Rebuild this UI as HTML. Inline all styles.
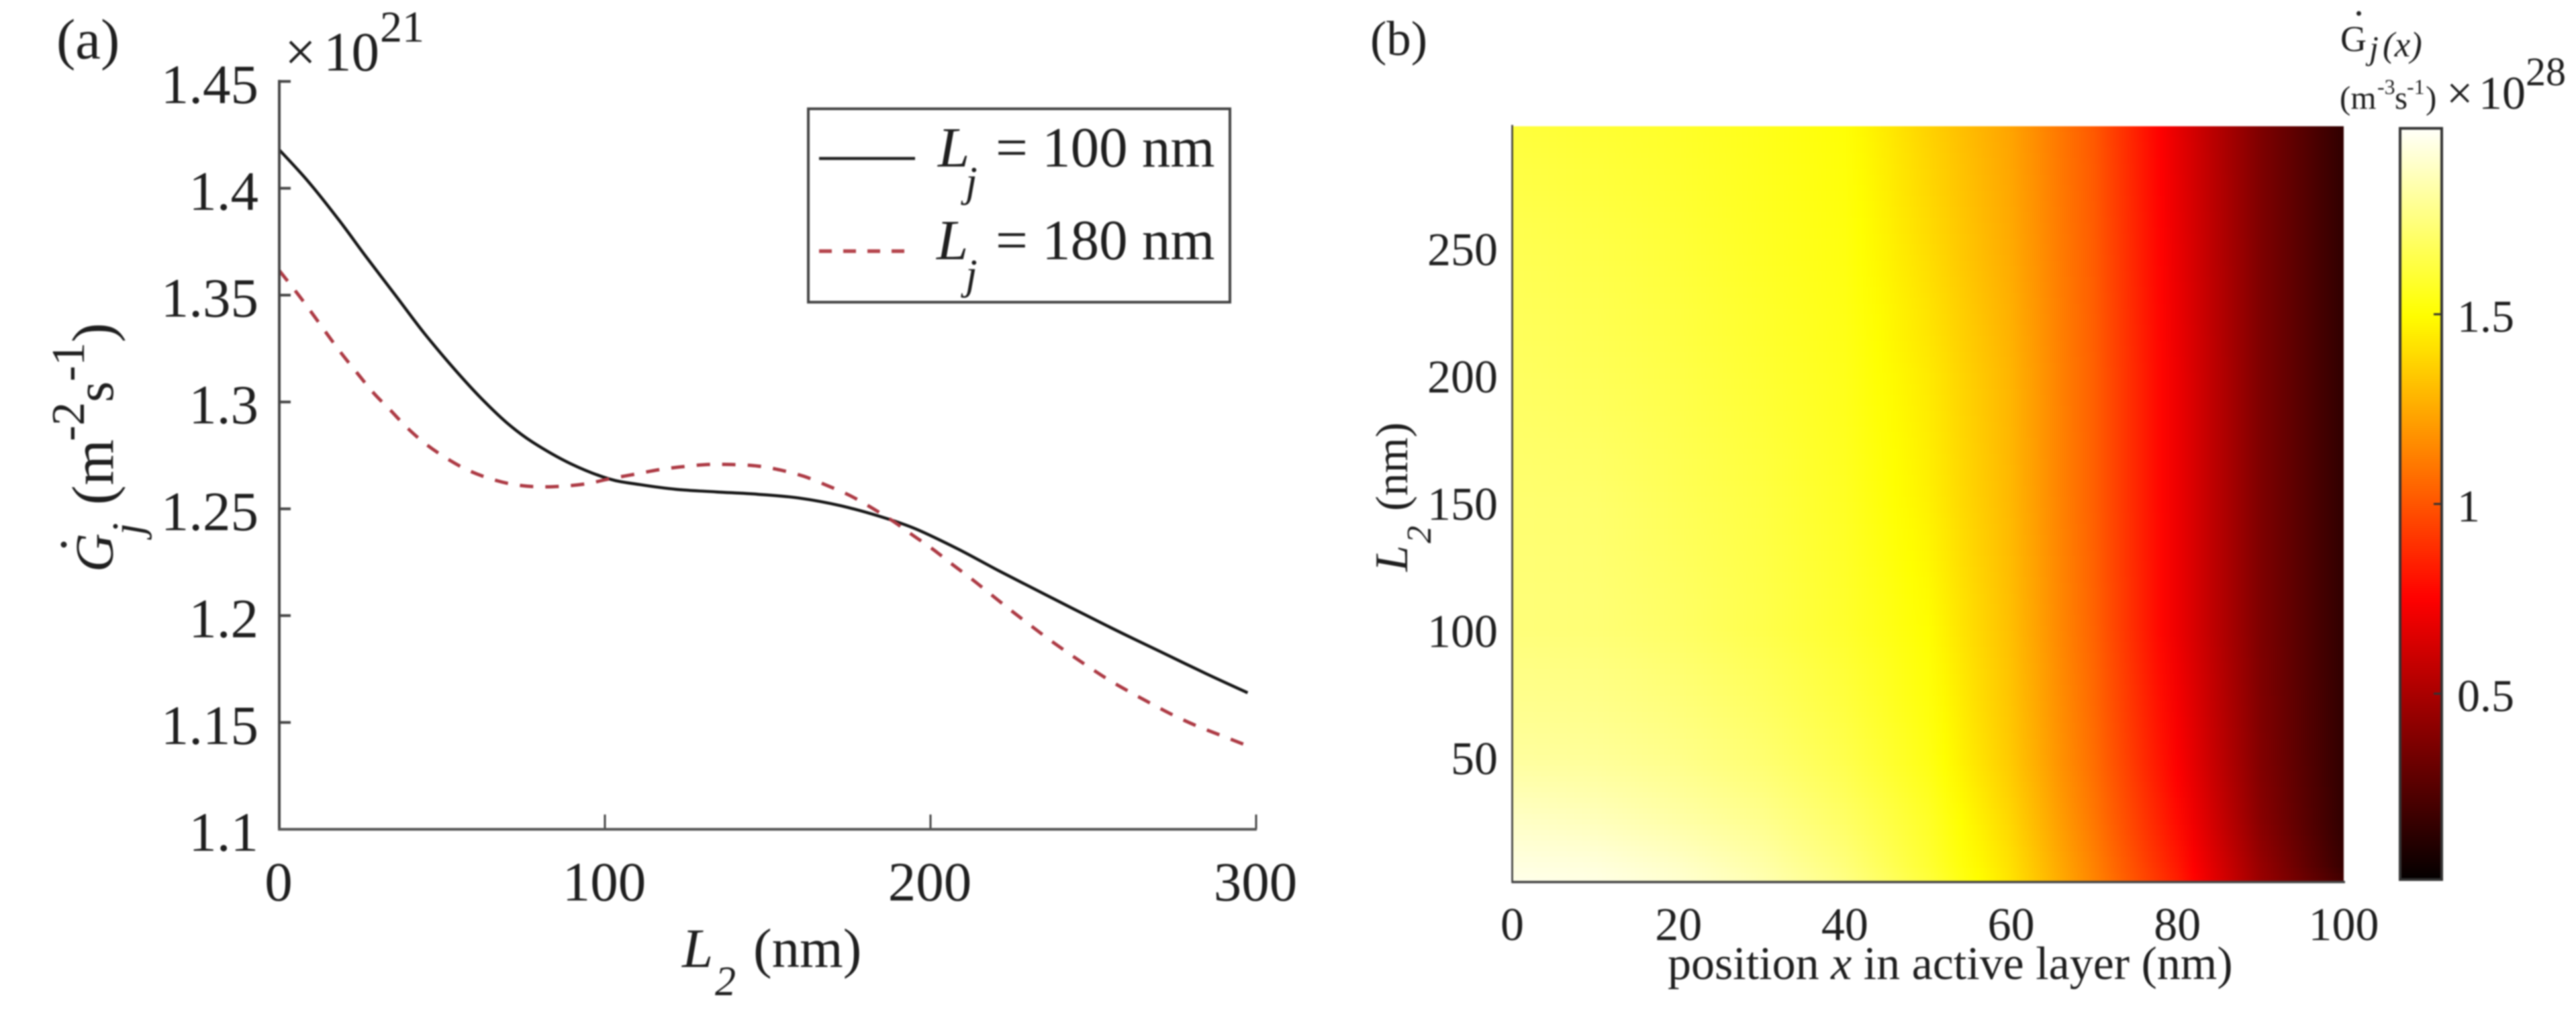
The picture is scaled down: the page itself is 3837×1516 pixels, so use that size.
<!DOCTYPE html>
<html lang="en">
<head>
<meta charset="utf-8">
<title>Generation rate vs spacer thickness and position</title>
<style>
  html, body { margin: 0; padding: 0; background: #fff; }
  body { width: 3837px; height: 1516px; overflow: hidden; }
  svg { display: block; filter: blur(1px); }
  text { font-family: "Liberation Serif", "Times New Roman", serif; fill: #1f1f1f; }
  .i { font-style: italic; }
</style>
</head>
<body>
<svg id="figure" xmlns="http://www.w3.org/2000/svg" width="3837" height="1516" viewBox="0 0 3837 1516">
  <rect x="0" y="0" width="3837" height="1516" fill="#ffffff"/>
  <defs id="defs"></defs>

  <!-- Panel (a) -->
  <g id="panel-a">
    <text x="84" y="87" font-size="85">(a)</text>
    <text x="424" y="105" font-size="83">×</text>
    <text x="482" y="105" font-size="83">10</text>
    <text x="566" y="62" font-size="66">21</text>

    <g id="a-grid-ticks"></g>
    <g id="a-series"></g>
    <line x1="416" y1="119" x2="416" y2="1237" stroke="#444" stroke-width="4"/>
    <line x1="414" y1="1235" x2="1872" y2="1235" stroke="#555" stroke-width="4"/>

    <g>
      <text class="i" font-size="80" transform="translate(168 852) rotate(-90)">G</text>
      <circle cx="95" cy="811" r="4.5" fill="#262626"/>
      <text class="i" font-size="66" transform="translate(212 797) rotate(-90)">j</text>
      <text font-size="88" transform="translate(168 752) rotate(-90)">(m</text>
      <text font-size="70" transform="translate(125 657) rotate(-90)">-2</text>
      <text font-size="80" transform="translate(168 599) rotate(-90)">s</text>
      <text font-size="70" transform="translate(125 568) rotate(-90)">-1</text>
      <text font-size="88" transform="translate(168 510) rotate(-90)">)</text>
    </g>

    <g>
      <text class="i" x="1016" y="1440" font-size="83">L</text>
      <text class="i" x="1065" y="1482" font-size="62">2</text>
      <text x="1122" y="1440" font-size="83">(nm)</text>
    </g>

    <g>
      <rect x="1204" y="162" width="628" height="288" fill="#fff" stroke="#444" stroke-width="4"/>
      <line x1="1220" y1="236" x2="1363" y2="236" stroke="#222" stroke-width="4.5"/>
      <text class="i" x="1397" y="248" font-size="85">L</text>
      <text class="i" x="1438" y="292" font-size="64">j</text>
      <text x="1483" y="248" font-size="85">= 100 nm</text>
      <line x1="1220" y1="374" x2="1354" y2="374" stroke="#b5444c" stroke-width="5.5" stroke-dasharray="19 17"/>
      <text class="i" x="1395" y="386" font-size="85">L</text>
      <text class="i" x="1438" y="430" font-size="64">j</text>
      <text x="1483" y="386" font-size="85">= 180 nm</text>
    </g>
  </g>

  <!-- Panel (b) -->
  <g id="panel-b">
    <text x="2041" y="82" font-size="73">(b)</text>
    <g id="heatmap"></g>
    <line x1="2252.5" y1="186" x2="2252.5" y2="1315" stroke="#333" stroke-width="2.5"/>
    <line x1="2252" y1="1313.5" x2="3493" y2="1313.5" stroke="#444" stroke-width="3.5"/>
    <g id="b-ticks"></g>
    <text x="2484" y="1458" font-size="70">position <tspan class="i">x</tspan> in active layer (nm)</text>
    <g>
      <text class="i" font-size="70" transform="translate(2096 851) rotate(-90)">L</text>
      <text class="i" font-size="52" transform="translate(2131 809) rotate(-90)">2</text>
      <text font-size="68" transform="translate(2096 761) rotate(-90)">(nm)</text>
    </g>

    <g id="colorbar"></g>

    <g>
      <text font-size="54" x="3486" y="76">G</text>
      <circle cx="3513.5" cy="20" r="3.5" fill="#262626"/>
      <text class="i" font-size="50" x="3529" y="88">j</text>
      <text class="i" font-size="53" x="3549" y="84">(x)</text>
      <text font-size="49" x="3485" y="162">(m</text>
      <text font-size="32" x="3541" y="140">-3</text>
      <text font-size="49" x="3567" y="162">s</text>
      <text font-size="32" x="3585" y="140">-1</text>
      <text font-size="49" x="3613" y="162">)</text>
      <text font-size="70" x="3644" y="162">×</text>
      <text font-size="70" x="3692" y="162">10</text>
      <text font-size="60" x="3762" y="127">28</text>
    </g>
  </g>
</svg>

<script>
// ---- Panel (a) data ----
const l2Samples = [0, 9, 18.5, 26.4, 35.9, 44.5, 54, 61.9, 69.7, 77.7, 89.5, 101.3, 110.8, 121.9, 134.3, 147, 159.8, 172.5, 185.2, 195.6, 208.3, 221, 236, 247.6, 259.2, 270.8, 284.7, 297.4];
const seriesL100 = [1.418, 1.403, 1.3848, 1.3685, 1.3495, 1.3322, 1.315, 1.3019, 1.2905, 1.2813, 1.2711, 1.264, 1.2613, 1.2591, 1.2579, 1.2568, 1.255, 1.2514, 1.2461, 1.2405, 1.2313, 1.221, 1.2093, 1.2003, 1.1915, 1.183, 1.1728, 1.1639];
const l2SamplesRed = [0, 5.9, 10.6, 15, 19.5, 24, 28.9, 34.2, 39.5, 45, 51.2, 57.9, 65, 72.2, 79.6, 87.1, 94.6, 101.3, 109.2, 117, 123.9, 131.4, 139, 147, 154, 161.1, 168.4, 175.4, 182.1, 188.7, 194.4, 200.8, 206.6, 212.6, 218.5, 224.5, 230.3, 236.3, 242.5, 248.6, 254.8, 261.3, 267.9, 274.6, 281.6, 288.8, 295.7, 297.4];
const seriesL180 = [1.3615, 1.3501, 1.3404, 1.3311, 1.3219, 1.3134, 1.3043, 1.296, 1.2876, 1.2803, 1.2738, 1.2681, 1.264, 1.2613, 1.2603, 1.2606, 1.2618, 1.264, 1.2662, 1.2684, 1.2697, 1.2707, 1.2707, 1.27, 1.2681, 1.2652, 1.2608, 1.2561, 1.2503, 1.244, 1.2378, 1.231, 1.2241, 1.2172, 1.21, 1.2027, 1.1959, 1.189, 1.1823, 1.176, 1.1699, 1.1642, 1.1587, 1.1534, 1.1485, 1.1442, 1.1401, 1.1393];
const xTicksA = [0, 100, 200, 300];
const yTicksA = [1.1, 1.15, 1.2, 1.25, 1.3, 1.35, 1.4, 1.45];
const yTickLabelsA = ["1.1", "1.15", "1.2", "1.25", "1.3", "1.35", "1.4", "1.45"];

// ---- Panel (b) data ----
const heatX = [0, 10, 20, 30, 40, 50, 60, 70, 80, 90, 100];
const heatL2 = [298, 250, 200, 150, 100, 50, 25, 8, 1];
const heatRow298 = [1.62, 1.60, 1.58, 1.55, 1.51, 1.37, 1.23, 1.01, 0.68, 0.37, 0.14];
const heatRow250 = [1.66, 1.64, 1.61, 1.57, 1.53, 1.40, 1.25, 1.02, 0.69, 0.37, 0.14];
const heatRow200 = [1.69, 1.67, 1.64, 1.60, 1.55, 1.44, 1.28, 1.03, 0.70, 0.37, 0.14];
const heatRow150 = [1.72, 1.71, 1.67, 1.63, 1.57, 1.46, 1.29, 1.03, 0.70, 0.37, 0.14];
const heatRow100 = [1.74, 1.73, 1.70, 1.65, 1.59, 1.50, 1.31, 1.04, 0.70, 0.37, 0.14];
const heatRow50 = [1.81, 1.80, 1.77, 1.72, 1.65, 1.54, 1.34, 1.07, 0.74, 0.38, 0.14];
const heatRow25 = [1.89, 1.87, 1.83, 1.78, 1.70, 1.58, 1.38, 1.10, 0.78, 0.40, 0.14];
const heatRow8 = [1.94, 1.93, 1.89, 1.83, 1.74, 1.60, 1.41, 1.13, 0.82, 0.44, 0.16];
const heatRow1 = [1.96, 1.95, 1.91, 1.85, 1.76, 1.62, 1.42, 1.14, 0.84, 0.45, 0.20];
const xTicksB = [0, 20, 40, 60, 80, 100];
const yTicksB = [50, 100, 150, 200, 250];
const cbarTicks = [0.5, 1, 1.5];
const cbarTickLabels = ["0.5", "1", "1.5"];
const cbarDomain = [0.01, 1.99];

const NS = "http://www.w3.org/2000/svg";
function el(tag, attrs, parent) {
  const e = document.createElementNS(NS, tag);
  for (const k in attrs) e.setAttribute(k, attrs[k]);
  parent.appendChild(e);
  return e;
}

// ---- Axis functions ----
const xA = v => 416 + v * 4.85;
const yA = v => 1235 - (v - 1.1) * 3182;
const xB = v => 2252.5 + v * 12.385;
const yB = v => 1318.5 - v * 3.79;
const yC = v => 1033 + (0.5 - v) * 565;

// ---- Line chart ----
function smoothPath(xs, ys) {
  const pts = xs.map((x, i) => [xA(x), yA(ys[i])]);
  let d = "M" + pts[0][0].toFixed(1) + " " + pts[0][1].toFixed(1);
  for (let i = 0; i < pts.length - 1; i++) {
    const p0 = pts[Math.max(0, i - 1)], p1 = pts[i], p2 = pts[i + 1], p3 = pts[Math.min(pts.length - 1, i + 2)];
    const c1 = [p1[0] + (p2[0] - p0[0]) / 6, p1[1] + (p2[1] - p0[1]) / 6];
    const c2 = [p2[0] - (p3[0] - p1[0]) / 6, p2[1] - (p3[1] - p1[1]) / 6];
    d += "C" + c1[0].toFixed(1) + " " + c1[1].toFixed(1) + " " + c2[0].toFixed(1) + " " + c2[1].toFixed(1) + " " + p2[0].toFixed(1) + " " + p2[1].toFixed(1);
  }
  return d;
}
const seriesGroup = document.getElementById("a-series");
const blackLine = el("path", { d: smoothPath(l2Samples, seriesL100), fill: "none", stroke: "#161616", "stroke-width": 4.5 }, seriesGroup);


const redLine = el("path", { d: smoothPath(l2SamplesRed, seriesL180), fill: "none", stroke: "#ad3a44", "stroke-width": 5, "stroke-dasharray": "20 18" }, seriesGroup);



const tickGroupA = document.getElementById("a-grid-ticks");
xTicksA.forEach(v => {
  if (v > 0) {
    const t = el("line", { x1: xA(v), x2: xA(v), y1: 1235, y2: 1213, stroke: "#444", "stroke-width": 3 }, tickGroupA);
    
    
  }
  const lab = el("text", { x: xA(v) - 1, y: 1341, "font-size": 83, "text-anchor": "middle" }, tickGroupA);
  lab.textContent = String(v);
  
  
});
yTicksA.forEach((v, i) => {
  const t = el("line", { x1: 416, x2: 433, y1: yA(v), y2: yA(v), stroke: "#444", "stroke-width": 4 }, tickGroupA);
  
  
  const lab = el("text", { x: 385, y: yA(v) + 32, "font-size": 83, "text-anchor": "end" }, tickGroupA);
  lab.textContent = yTickLabelsA[i];
  
  
});

// ---- Heatmap ----
function hot(v) {
  const t = Math.max(0, Math.min(1, v / 2));
  const r = Math.min(1, t / 0.375);
  const g = Math.max(0, Math.min(1, (t - 0.375) / 0.375));
  const b = Math.max(0, Math.min(1, (t - 0.75) / 0.25));
  return "rgb(" + Math.round(r * 255) + "," + Math.round(g * 255) + "," + Math.round(b * 255) + ")";
}
const heatRows = [heatRow298, heatRow250, heatRow200, heatRow150, heatRow100, heatRow50, heatRow25, heatRow8, heatRow1];
function heatValue(x, l2) {
  let ri = 0;
  while (ri < heatL2.length - 2 && l2 < heatL2[ri + 1]) ri++;
  let ci = 0;
  while (ci < heatX.length - 2 && x > heatX[ci + 1]) ci++;
  const fr = Math.max(0, Math.min(1, (heatL2[ri] - l2) / (heatL2[ri] - heatL2[ri + 1])));
  const fc = (x - heatX[ci]) / (heatX[ci + 1] - heatX[ci]);
  const a = heatRows[ri][ci] * (1 - fc) + heatRows[ri][ci + 1] * fc;
  const b = heatRows[ri + 1][ci] * (1 - fc) + heatRows[ri + 1][ci + 1] * fc;
  return a * (1 - fr) + b * fr;
}
const defs = document.getElementById("defs");
const heatGroup = document.getElementById("heatmap");
const heatTop = 188, heatBottom = 1313, bandH = 8;
const xSteps = 50;
let bandIndex = 0;
for (let py = heatTop; py < heatBottom; py += bandH) {
  const l2 = (1318.5 - (py + bandH / 2)) / 3.79;
  const id = "hm" + bandIndex;
  const grad = el("linearGradient", { id: id, x1: 0, x2: 1, y1: 0, y2: 0 }, defs);
  for (let s = 0; s <= xSteps; s++) {
    const x = 100 * s / xSteps;
    el("stop", { offset: (s / xSteps).toFixed(4), "stop-color": hot(heatValue(x, l2)) }, grad);
  }
  const band = el("rect", { x: xB(0), y: py, width: xB(100) - xB(0), height: Math.min(bandH + 1, heatBottom - py), fill: "url(#" + id + ")" }, heatGroup);
  
  
  bandIndex++;
}

const tickGroupB = document.getElementById("b-ticks");
xTicksB.forEach(v => {
  const lab = el("text", { x: xB(v), y: 1400, "font-size": 70, "text-anchor": "middle" }, tickGroupB);
  lab.textContent = String(v);
  
  
});
yTicksB.forEach(v => {
  const lab = el("text", { x: 2231, y: yB(v) + 24, "font-size": 70, "text-anchor": "end" }, tickGroupB);
  lab.textContent = String(v);
  
  
});

// ---- Colorbar ----
const cbGrad = el("linearGradient", { id: "cbGrad", x1: 0, x2: 0, y1: 0, y2: 1 }, defs);
for (let s = 0; s <= 64; s++) {
  const v = cbarDomain[1] + (cbarDomain[0] - cbarDomain[1]) * s / 64;
  el("stop", { offset: (s / 64).toFixed(4), "stop-color": hot(v) }, cbGrad);
}
const cbGroup = document.getElementById("colorbar");
const cbRect = el("rect", { x: 3575, y: yC(cbarDomain[1]), width: 62, height: yC(cbarDomain[0]) - yC(cbarDomain[1]), fill: "url(#cbGrad)", stroke: "#333", "stroke-width": 4 }, cbGroup);


cbarTicks.forEach((v, i) => {
  const t = el("line", { x1: 3625, x2: 3637, y1: yC(v), y2: yC(v), stroke: "#333", "stroke-width": 3 }, cbGroup);
  
  
  const lab = el("text", { x: 3660, y: yC(v) + 26, "font-size": 68 }, cbGroup);
  lab.textContent = cbarTickLabels[i];
  
  
});
</script>
</body>
</html>
